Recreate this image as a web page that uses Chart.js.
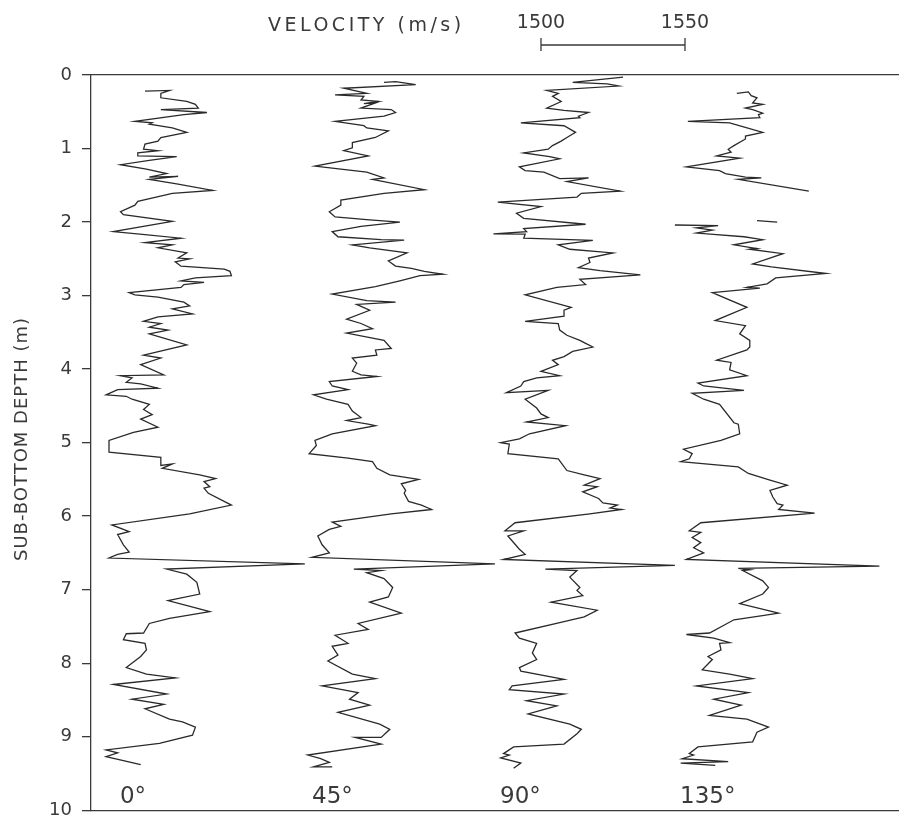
<!DOCTYPE html>
<html><head><meta charset="utf-8">
<script src="https://cdn.jsdelivr.net/npm/chart.js@4/dist/chart.umd.min.js"></script>
<style>html,body{margin:0;padding:0;background:#fff;}canvas{display:block;}</style>
</head><body>
<canvas id="c" width="899" height="831"></canvas>
<script>
// ---- data (depth in m, velocity in m/s) ----
const depthTicks = [0,1,2,3,4,5,6,7,8,9,10];
const traceLabels = ['0°','45°','90°','135°'];
const traceOffsets = [-125, -62.5, 0, 62.5];   // horizontal display offset of each trace (m/s)
const scaleBar = [1500, 1550];
const velocityTitle = 'VELOCITY (m/s)';
const depthTitle = 'SUB-BOTTOM DEPTH (m)';

const d0 = [0.22,0.21,0.25,0.31,0.36,0.40,0.45,0.47,0.51,0.54,0.63,0.65,0.67,0.72,0.78,0.85,0.90,0.94,1.01,1.03,1.06,1.10,1.11,1.16,1.22,1.28,1.34,1.39,1.38,1.42,1.48,1.57,1.61,1.72,1.77,1.86,1.90,1.99,2.13,2.17,2.22,2.28,2.31,2.35,2.42,2.49,2.50,2.54,2.60,2.64,2.67,2.73,2.76,2.80,2.82,2.85,2.89,2.96,2.99,3.02,3.09,3.14,3.18,3.25,3.29,3.35,3.38,3.43,3.47,3.52,3.67,3.81,3.85,3.94,4.08,4.09,4.12,4.18,4.20,4.26,4.28,4.35,4.37,4.41,4.48,4.55,4.62,4.68,4.79,4.86,4.97,5.13,5.20,5.31,5.29,5.35,5.44,5.49,5.53,5.60,5.62,5.69,5.85,5.97,6.12,6.21,6.25,6.39,6.49,6.52,6.57,6.65,6.72,6.79,6.90,7.06,7.15,7.30,7.39,7.46,7.59,7.60,7.68,7.73,7.82,7.91,8.06,8.15,8.20,8.29,8.42,8.49,8.56,8.62,8.76,8.80,8.87,8.98,9.09,9.18,9.22,9.27,9.38];
const v0 = [1487.5,1496,1493,1493,1502,1505,1506,1493,1509,1501,1484,1490,1489,1497,1502,1493,1492,1487.5,1487,1492,1485,1485,1498.5,1489,1479,1488,1495,1489,1499,1489,1498.5,1511,1497,1485,1484,1479,1480,1497,1476.5,1487.5,1500,1487.5,1497,1492,1502,1499,1503,1498,1500,1515,1517,1517.5,1505,1500,1508,1501,1500,1482,1484,1492,1501,1503,1497,1504,1492,1487,1493,1489,1495.5,1489,1502,1487,1493,1486,1494,1479,1483,1481,1486,1492,1478,1474,1481,1483,1489,1487,1490,1486,1492,1483.5,1475,1475,1493,1493,1497,1493.5,1506.5,1512,1508,1510,1508,1509.5,1517.5,1503,1476,1482,1478,1480,1482,1478,1475,1543,1495,1502,1505.5,1506.5,1495.5,1510,1496,1489,1487,1481,1480,1487.5,1488,1486,1481,1488,1498,1476.5,1495,1483,1494,1487.5,1496,1500.5,1505,1504,1492.5,1474,1478,1474,1486];

const d45 = [0.10,0.09,0.13,0.18,0.25,0.27,0.29,0.34,0.36,0.39,0.38,0.45,0.47,0.51,0.56,0.63,0.69,0.72,0.76,0.85,0.92,0.99,1.03,1.10,1.24,1.32,1.40,1.42,1.56,1.61,1.70,1.77,1.86,1.93,1.97,2.00,2.06,2.13,2.20,2.24,2.245,2.31,2.35,2.42,2.53,2.60,2.63,2.67,2.71,2.73,2.80,2.88,2.98,3.07,3.09,3.12,3.20,3.32,3.38,3.45,3.51,3.61,3.72,3.74,3.81,3.85,3.92,4.03,4.08,4.10,4.17,4.23,4.28,4.35,4.41,4.48,4.57,4.66,4.70,4.75,4.77,4.88,4.97,5.04,5.15,5.21,5.26,5.35,5.44,5.50,5.56,5.65,5.69,5.80,5.85,5.91,5.97,6.08,6.14,6.18,6.27,6.39,6.50,6.56,6.65,6.72,6.74,6.77,6.85,6.97,7.10,7.17,7.32,7.46,7.54,7.62,7.73,7.77,7.89,7.97,8.15,8.21,8.31,8.40,8.49,8.57,8.67,8.83,8.90,9.01,9.01,9.10,9.25,9.30,9.35,9.41,9.41];
const v45 = [1508,1512,1519,1494,1502,1491,1501,1500,1506,1501,1505,1500,1510.5,1512,1508,1491,1501,1502,1509.5,1505,1497,1497,1494,1502.5,1484,1502,1508,1504,1522,1508,1493,1493,1489,1491,1503,1513.5,1500,1490,1492,1507,1515,1497,1503,1516,1509.5,1512,1517.5,1522,1528.5,1520.5,1513.5,1505,1490,1502,1512,1498.5,1503,1495,1500,1504,1495,1508,1510.5,1505,1505.5,1497,1498.5,1497,1500,1505.5,1489,1490,1495.5,1483.5,1488,1495.5,1497,1500,1495,1502.5,1505,1490,1484,1484.5,1482,1495.5,1504,1505.5,1510,1520,1514,1515.5,1515,1516.5,1521,1524.5,1510.5,1490,1493,1489,1485,1486.5,1489,1483,1546.5,1497.5,1507,1502,1508,1511,1509.5,1503,1514,1499,1502.5,1491,1495.5,1490,1492,1488.5,1497,1505,1486.5,1499,1496,1503,1492,1506.5,1510,1507,1498,1507,1481.5,1486,1489,1483.5,1490];

const d90 = [0.03,0.10,0.12,0.15,0.21,0.25,0.29,0.36,0.45,0.48,0.51,0.56,0.58,0.65,0.69,0.78,0.85,0.90,0.96,1.01,1.06,1.11,1.14,1.25,1.30,1.32,1.41,1.40,1.45,1.58,1.61,1.66,1.73,1.79,1.88,1.95,2.03,2.09,2.13,2.16,2.165,2.22,2.25,2.31,2.37,2.42,2.49,2.55,2.62,2.66,2.72,2.78,2.85,2.89,2.99,3.16,3.20,3.28,3.35,3.38,3.47,3.54,3.61,3.65,3.70,3.76,3.83,3.88,3.94,4.03,4.09,4.12,4.17,4.23,4.32,4.29,4.41,4.53,4.61,4.66,4.72,4.77,4.88,4.95,5.00,5.02,5.15,5.22,5.38,5.44,5.49,5.58,5.60,5.67,5.76,5.82,5.85,5.89,5.91,5.97,6.09,6.20,6.20,6.27,6.45,6.52,6.59,6.67,6.72,6.74,6.83,6.97,7.01,7.08,7.17,7.28,7.37,7.45,7.59,7.66,7.73,7.86,7.95,8.06,8.11,8.22,8.31,8.36,8.42,8.51,8.58,8.69,8.83,8.90,8.96,9.10,9.14,9.23,9.25,9.29,9.36,9.43];
const v90 = [1528.5,1511,1523,1527,1502,1506,1504,1507,1502,1508,1516.5,1513,1513.5,1493,1508,1512,1509,1507,1504,1502.5,1494,1503,1506.5,1492.5,1494.5,1501,1506.5,1516.5,1509,1527.5,1514,1512.5,1485,1500,1491.5,1494,1515.5,1494,1495,1483.5,1494.5,1494,1518,1506,1510,1525,1516.5,1517,1513,1520.5,1534.5,1513.5,1515.5,1505.5,1494.5,1510.5,1508,1508,1494.5,1506,1506.5,1509,1513.5,1515.5,1518,1511,1508,1504,1506,1500,1506.5,1498.5,1494,1493,1488,1502.5,1494.5,1498.5,1500,1502.5,1495,1508.5,1496,1492.5,1486,1489,1488.5,1506,1509,1515,1520.5,1515,1519.5,1514.5,1520,1521.5,1526.5,1524,1528,1517,1491,1487.5,1494,1488.5,1492.5,1494.5,1487,1546.5,1501.5,1512.5,1510,1513.5,1512.5,1514.5,1503.5,1519.5,1515,1506.5,1491,1492.5,1498.5,1497,1498.5,1492.5,1493,1508,1490,1489,1508,1495,1505.5,1495.5,1510,1514,1512.5,1508,1490.5,1487,1489,1486,1493,1490.5];

const d135 = [0.25,0.23,0.28,0.31,0.38,0.40,0.45,0.47,0.52,0.54,0.58,0.63,0.65,0.78,0.83,0.87,0.96,1.01,1.05,1.10,1.13,1.25,1.30,1.34,1.39,1.40,1.42,1.58,null,1.98,2.00,null,2.04,2.05,2.08,2.11,2.15,2.20,2.24,2.31,2.36,2.37,2.43,2.57,2.61,2.70,2.76,2.84,2.89,2.90,2.96,3.16,3.34,3.41,3.52,3.61,3.70,3.74,3.88,3.91,4.01,4.09,4.19,4.23,4.29,4.33,4.41,4.48,4.73,4.75,4.88,4.97,5.09,5.15,5.22,5.26,5.33,5.42,5.51,5.58,5.65,5.74,5.83,5.85,5.91,5.96,6.09,6.20,6.22,6.29,6.36,6.43,6.50,6.59,6.68,6.71,6.73,6.74,6.88,6.97,7.06,7.19,7.32,7.35,7.41,7.59,7.61,7.66,7.72,7.73,7.82,7.91,7.95,8.09,8.15,8.21,8.31,8.40,8.49,8.57,8.71,8.76,8.87,8.94,9.07,9.14,9.23,9.25,9.30,9.34,9.36,9.39];
const v135 = [1505.5,1509.5,1510.5,1512.5,1511,1514.5,1508.5,1511,1514.5,1513,1513.5,1488.5,1503,1514.5,1508.5,1508.5,1504.5,1502.5,1503.5,1498.5,1506.5,1488,1499.5,1501.5,1508.5,1514,1506,1530.5,null,1512.5,1519.5,null,1484,1499,1491.5,1497,1491.5,1508,1514.5,1504.5,1512.5,1510,1521.5,1511,1517.5,1536.5,1519,1516,1509,1513.5,1497,1509,1498,1508.5,1506.5,1510,1510,1509,1498.5,1503.5,1503,1509,1492,1494,1508,1490,1494,1499.5,1504.5,1506,1506.5,1500,1487,1490,1489,1486,1506,1509.5,1517,1523,1517,1518,1519.5,1521.5,1520,1532.5,1493,1489,1493,1490,1493,1490.5,1494,1488,1555,1506,1510,1507.5,1514.5,1516.5,1514.5,1506.5,1520,1515,1504.5,1496,1488,1497.5,1503,1499.5,1500,1495.5,1497,1493.5,1503,1511,1491.5,1509.5,1497.5,1507,1496,1509,1516.5,1512.5,1511,1492,1489,1490.5,1486.5,1502.5,1486,1498];

const labelVel = [1478.8, 1483, 1485.8, 1485.8];  // where each trace label starts (trace m/s)
const labelDepth = 9.9;
const X_MIN = 1343.75, X_MAX = 1624.31;

// ---- chart ----
const FONT = '"DejaVu Sans", "Liberation Sans", sans-serif';
const INK = '#3a3a3a';
const depths = [d0, d45, d90, d135];
const vels = [v0, v45, v90, v135];

function points(d, v, off) {
  return d.map((y, i) => (y === null || v[i] === null) ? {x: null, y: null} : {x: v[i] + off, y: y});
}

const datasets = traceLabels.map((name, k) => ({
  label: name,
  data: points(depths[k], vels[k], traceOffsets[k]),
  showLine: true,
  spanGaps: false,
  borderColor: '#2a2a2a',
  borderWidth: 1.3,
  pointRadius: 0,
  tension: 0
}));

const annot = {
  id: 'annot',
  afterDraw(chart) {
    const ctx = chart.ctx, xs = chart.scales.x, ys = chart.scales.y;
    ctx.save();
    ctx.fillStyle = INK; ctx.strokeStyle = INK;
    ctx.font = '19px ' + FONT;
    ctx.textBaseline = 'alphabetic';
    ctx.textAlign = 'left';
    ctx.letterSpacing = '3.5px';
    ctx.fillText(velocityTitle, 268, 31);
    ctx.letterSpacing = '0px';
    const x1 = xs.getPixelForValue(scaleBar[0]), x2 = xs.getPixelForValue(scaleBar[1]);
    ctx.textAlign = 'center';
    ctx.fillText(String(scaleBar[0]), x1, 28);
    ctx.fillText(String(scaleBar[1]), x2, 28);
    ctx.lineWidth = 1.3;
    ctx.beginPath();
    ctx.moveTo(x1, 45); ctx.lineTo(x2, 45);
    ctx.moveTo(x1, 38); ctx.lineTo(x1, 51);
    ctx.moveTo(x2, 38); ctx.lineTo(x2, 51);
    ctx.stroke();
    // depth axis title
    ctx.save();
    ctx.translate(22, 439);
    ctx.rotate(-Math.PI / 2);
    ctx.textAlign = 'center'; ctx.textBaseline = 'middle';
    ctx.font = '18px ' + FONT;
    ctx.letterSpacing = '1px';
    ctx.fillText(depthTitle, 0, 0);
    ctx.restore();
    // trace labels
    ctx.font = '23px ' + FONT;
    ctx.textAlign = 'left'; ctx.textBaseline = 'alphabetic';
    ctx.letterSpacing = '0px';
    traceLabels.forEach((t, i) => {
      ctx.fillText(t, xs.getPixelForValue(labelVel[i] + traceOffsets[i]), ys.getPixelForValue(labelDepth));
    });
    ctx.restore();
  }
};

const frameAxis = (pos) => ({
  type: 'linear', position: pos, min: X_MIN, max: X_MAX,
  ticks: {display: false},
  grid: {display: false, drawTicks: false},
  border: {display: true, color: INK, width: 1.3},
  afterFit(s) { s.height = 0; }
});

new Chart(document.getElementById('c'), {
  type: 'scatter',
  data: {datasets},
  options: {
    responsive: false,
    animation: false,
    layout: {padding: {top: 75, bottom: 12, left: 0, right: 0}},
    plugins: {legend: {display: false}, tooltip: {enabled: false}, title: {display: false}},
    scales: {
      x: frameAxis('bottom'),
      xTop: frameAxis('top'),
      y: {
        type: 'linear', reverse: true, min: 0, max: 10,
        afterBuildTicks(s) { s.ticks = depthTicks.map(v => ({value: v})); },
        ticks: {color: INK, font: {family: FONT, size: 18}, padding: 10, callback: v => String(v)},
        grid: {display: true, drawOnChartArea: false, drawTicks: true, tickLength: 9, color: INK, lineWidth: 1.3},
        border: {display: true, color: INK, width: 1.3},
        afterFit(s) { s.width = 91; }
      }
    }
  },
  plugins: [annot]
});
</script>
</body></html>
